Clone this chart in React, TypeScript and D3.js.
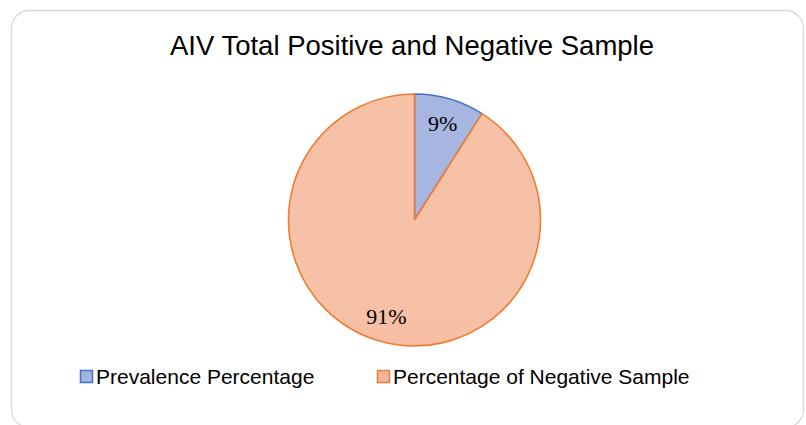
import React from "react";
import * as d3 from "d3";

const title = "AIV Total Positive and Negative Sample";
const categories = ["Prevalence Percentage", "Percentage of Negative Sample"];
const values = [9, 91];
const labels = ["9%", "91%"];

const W = 806;
const H = 425;
const cx = 414.5;
const cy = 220;
const R = 126;

const fillGrad = [
  { id: "gBlue", top: "#a6b6e1", bottom: "#8ba2d9" },
  { id: "gOrange", top: "#f7c1a7", bottom: "#f4a47f" },
];
const strokes = ["#4472c4", "#ed7d31"];
const legendFills = ["#a3b4df", "#f6b59a"];

export default function App() {
  const pie = d3
    .pie<number>()
    .sort(null)
    .value((d) => d)
    .startAngle(0)
    .endAngle(2 * Math.PI);
  const arcs = pie(values);
  const arc = d3.arc<d3.PieArcDatum<number>>().innerRadius(0).outerRadius(R);
  const labelArc = d3
    .arc<d3.PieArcDatum<number>>()
    .innerRadius(R * 0.8)
    .outerRadius(R * 0.8);

  const legendX = [80, 377];

  return (
    <svg
      width={W}
      height={H}
      style={{ position: "absolute", left: 0, top: 0, background: "#fff" }}
    >
      <defs>
        {fillGrad.map((g) => (
          <linearGradient
            key={g.id}
            id={g.id}
            gradientUnits="userSpaceOnUse"
            x1={0}
            y1={cy - R}
            x2={0}
            y2={cy + R}
          >
            <stop offset="0%" stopColor={g.top} />
            <stop offset="100%" stopColor={g.bottom} />
          </linearGradient>
        ))}
      </defs>
      <rect
        x={11.5}
        y={10.5}
        width={792}
        height={417}
        rx={18}
        fill="#fff"
        stroke="#d9d9d9"
        strokeWidth={1.3}
      />
      <text
        x={412}
        y={55}
        textAnchor="middle"
        fontFamily="'Liberation Sans', Arial, sans-serif"
        fontSize={27.5}
        fill="#000"
      >
        {title}
      </text>
      <g transform={`translate(${cx},${cy})`}>
        {arcs.map((a, i) => (
          <path
            key={i}
            d={arc(a) || ""}
            fill={`url(#${fillGrad[i].id})`}
            stroke={strokes[i]}
            strokeWidth={1.6}
            strokeLinejoin="round"
          />
        ))}
        {arcs.map((a, i) => {
          const [x, y] = labelArc.centroid(a);
          return (
            <text
              key={"l" + i}
              x={x}
              y={y}
              dy="0.35em"
              textAnchor="middle"
              fontFamily="'Liberation Serif', 'Times New Roman', serif"
              fontSize={22}
              fill="#000"
            >
              {labels[i]}
            </text>
          );
        })}
      </g>
      {categories.map((c, i) => (
        <g key={c}>
          <rect
            x={legendX[i] + 0.5}
            y={370.5}
            width={12}
            height={12}
            fill={legendFills[i]}
            stroke={strokes[i]}
            strokeWidth={1.5}
          />
          <text
            x={legendX[i] + 16}
            y={384}
            fontFamily="'Liberation Sans', Arial, sans-serif"
            fontSize={21}
            fill="#000"
          >
            {c}
          </text>
        </g>
      ))}
    </svg>
  );
}
